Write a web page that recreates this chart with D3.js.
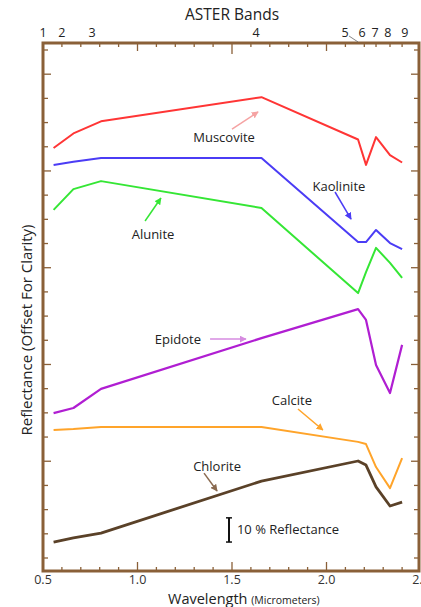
<!DOCTYPE html>
<html>
<head>
<meta charset="utf-8">
<script src="https://cdn.jsdelivr.net/npm/d3@7"></script>
<style>
  body { margin: 0; background: #fff; }
  svg { display: block; font-family: "Open Sans", "Noto Sans", sans-serif; }
</style>
</head>
<body>
<svg id="chart" width="421" height="607"></svg>
<script>
// ASTER band centres (micrometres) and where their labels sit
const bandNames = ['1', '2', '3', '4', '5', '6', '7', '8', '9'];
const bandWl = [0.556, 0.661, 0.807, 1.656, 2.167, 2.209, 2.262, 2.336, 2.400];
const bandLabelWl = [0.50, 0.60, 0.76, 1.627, 2.098, 2.188, 2.257, 2.325, 2.415];

// reflectance (offset for clarity), one value per band
const muscovite = [169.5, 175.5, 180.5, 190.5, 173, 162.5, 174, 166.5, 163.5];
const kaolinite = [162.5, 163.8, 165.4, 165.4, 130.6, 130.6, 135.6, 130.2, 127.7];
const alunite   = [143.9, 152.5, 155.8, 144.7, 109.5, 118.2, 128.2, 122, 115.8];
const epidote   = [59.9, 62, 69.9, 90.9, 102.9, 98.4, 79.8, 68.2, 88.1];
const calcite   = [52.9, 53.3, 54.2, 54.2, 48, 47.1, 37.6, 28.9, 41.3];
const chlorite  = [6.6, 8.3, 10.3, 31.8, 40.1, 38.4, 29.4, 21.5, 23.1];

const xTicksBottom = d3.range(6, 25).map(d => d / 10);
const xTickLabels = [0.5, 1.0, 1.5, 2.0, 2.5];
const yTicks = d3.range(0, 220, 10);

const series = [
  { name: 'Muscovite', values: muscovite, color: '#ff3535', width: 2 },
  { name: 'Kaolinite', values: kaolinite, color: '#4b3cf5', width: 2 },
  { name: 'Alunite', values: alunite, color: '#35e635', width: 2 },
  { name: 'Epidote', values: epidote, color: '#b01ed2', width: 2.2 },
  { name: 'Calcite', values: calcite, color: '#ffa42a', width: 2 },
  { name: 'Chlorite', values: chlorite, color: '#5a4128', width: 2.8 }
];

// label text and arrow, in data units
const notes = [
  { text: 'Muscovite', at: [1.458, 174], from: [1.50, 177.3], to: [1.638, 184.4], color: '#f5a3a3' },
  { text: 'Kaolinite', at: [2.066, 153.4], from: [2.045, 151.3], to: [2.130, 140.1], color: '#4b3cf5' },
  { text: 'Alunite', at: [1.082, 133.9], from: [1.040, 139.3], to: [1.124, 148.8], color: '#35e635' },
  { text: 'Epidote', at: [1.214, 90.5], from: [1.384, 90.5], to: [1.574, 90.5], color: '#d68be0' },
  { text: 'Calcite', at: [1.817, 65.3], from: [1.849, 61.6], to: [1.981, 52.9], color: '#ffa42a' },
  { text: 'Chlorite', at: [1.421, 38.0], from: [1.352, 35.1], to: [1.421, 27.7], color: '#8a6a50' }
];

const svg = d3.select('#chart');
const frameColor = '#8a6038';

const x = d3.scaleLinear().domain([0.5, 2.5]).range([43, 421]);
const y = d3.scaleLinear().domain([0, 210]).range([558, 50]);
const frameTop = 43, frameBottom = 571;

const defs = svg.append('defs');
notes.forEach((n, i) => {
  defs.append('marker')
    .attr('id', 'arrow' + i)
    .attr('viewBox', '0 0 10 10')
    .attr('refX', 9).attr('refY', 5)
    .attr('markerWidth', 7).attr('markerHeight', 7)
    .attr('markerUnits', 'userSpaceOnUse')
    .attr('orient', 'auto')
    .append('path')
    .attr('d', 'M0,0 L10,5 L0,10 z')
    .attr('fill', n.color);
});

// curves
const line = d3.line()
  .x((d, i) => x(bandWl[i]))
  .y(d => y(d));

svg.selectAll('path.curve').data(series)
  .enter()
  .append('path')
  .attr('class', 'curve')
  .attr('d', d => line(d.values))
  .attr('fill', 'none')
  .attr('stroke', d => d.color)
  .attr('stroke-width', d => d.width)
  .attr('stroke-linejoin', 'round');

// labels + arrows
notes.forEach((n, i) => {
  svg.append('text')
    .attr('x', x(n.at[0])).attr('y', y(n.at[1]))
    .attr('dy', '0.35em')
    .attr('text-anchor', 'middle')
    .attr('font-size', 13)
    .attr('fill', '#222')
    .text(n.text);
  svg.append('line')
    .attr('x1', x(n.from[0])).attr('y1', y(n.from[1]))
    .attr('x2', x(n.to[0])).attr('y2', y(n.to[1]))
    .attr('stroke', n.color)
    .attr('stroke-width', 1.5)
    .attr('marker-end', 'url(#arrow' + i + ')');
});

// 10 % scale bar
const barX = x(1.484);
const bar = svg.append('g').attr('stroke', '#111').attr('stroke-width', 2);
bar.append('line').attr('x1', barX).attr('x2', barX).attr('y1', y(6.6)).attr('y2', y(16.6));
bar.append('line').attr('x1', barX - 3).attr('x2', barX + 3).attr('y1', y(6.6)).attr('y2', y(6.6)).attr('stroke-width', 1.5);
bar.append('line').attr('x1', barX - 3).attr('x2', barX + 3).attr('y1', y(16.6)).attr('y2', y(16.6)).attr('stroke-width', 1.5);
svg.append('text')
  .attr('x', x(1.526)).attr('y', y(11.6))
  .attr('dy', '0.35em')
  .attr('font-size', 13)
  .attr('fill', '#222')
  .text('10 % Reflectance');

// ticks, all pointing inward
const tickG = svg.append('g').attr('stroke', frameColor).attr('stroke-width', 1.3);
const isMajor = v => Math.abs(v * 2 - Math.round(v * 2)) < 1e-6;

tickG.selectAll('line.bt').data(xTicksBottom).enter().append('line')
  .attr('x1', d => x(d)).attr('x2', d => x(d))
  .attr('y1', frameBottom).attr('y2', d => frameBottom - (isMajor(d) ? 9 : 4));

const topTicks = d3.range(6, 23).map(d => d / 10).concat(bandWl.slice(6));
tickG.selectAll('line.tt').data(topTicks).enter().append('line')
  .attr('x1', d => x(d)).attr('x2', d => x(d))
  .attr('y1', frameTop).attr('y2', d => frameTop + (Math.abs(d - 1.5) < 1e-6 ? 11 : isMajor(d) ? 8 : 4));

tickG.selectAll('line.lt').data(yTicks).enter().append('line')
  .attr('y1', d => y(d)).attr('y2', d => y(d))
  .attr('x1', 43).attr('x2', (d, i) => 43 + (i > 0 && i % 4 === 0 ? 8 : 5));

tickG.selectAll('line.rt').data(yTicks).enter().append('line')
  .attr('y1', d => y(d)).attr('y2', d => y(d))
  .attr('x1', 419).attr('x2', (d, i) => 419 - (i > 0 && i % 4 === 0 ? 8 : 5));

// frame
svg.append('rect')
  .attr('x', 43).attr('y', frameTop)
  .attr('width', 376).attr('height', frameBottom - frameTop)
  .attr('fill', 'none')
  .attr('stroke', frameColor)
  .attr('stroke-width', 3);

// bottom axis labels
svg.selectAll('text.xl').data(xTickLabels).enter().append('text')
  .attr('x', d => x(d)).attr('y', 584)
  .attr('text-anchor', 'middle')
  .attr('font-size', 12.5)
  .attr('fill', '#333')
  .text(d => d.toFixed(1));

const xTitle = svg.append('text')
  .attr('x', 168).attr('y', 604)
  .attr('font-size', 14.5)
  .attr('fill', '#222');
xTitle.append('tspan').text('Wavelength ');
xTitle.append('tspan').attr('font-size', 10.5).text('(Micrometers)');

// top band labels
svg.selectAll('text.bl').data(bandNames).enter().append('text')
  .attr('x', (d, i) => x(bandLabelWl[i])).attr('y', 37)
  .attr('text-anchor', 'middle')
  .attr('font-size', 12.5)
  .attr('fill', '#222')
  .text(d => d);

// leader from band 5 label to its position
svg.append('line')
  .attr('x1', x(bandLabelWl[4]) + 4).attr('y1', 36)
  .attr('x2', x(bandWl[4])).attr('y2', frameTop - 1)
  .attr('stroke', '#666').attr('stroke-width', 0.8);

svg.append('text')
  .attr('x', 232).attr('y', 20)
  .attr('text-anchor', 'middle')
  .attr('font-size', 15.5)
  .attr('fill', '#222')
  .text('ASTER Bands');

svg.append('text')
  .attr('transform', 'translate(32,330) rotate(-90)')
  .attr('text-anchor', 'middle')
  .attr('font-size', 15)
  .attr('fill', '#222')
  .text('Reflectance (Offset For Clarity)');
</script>
</body>
</html>
